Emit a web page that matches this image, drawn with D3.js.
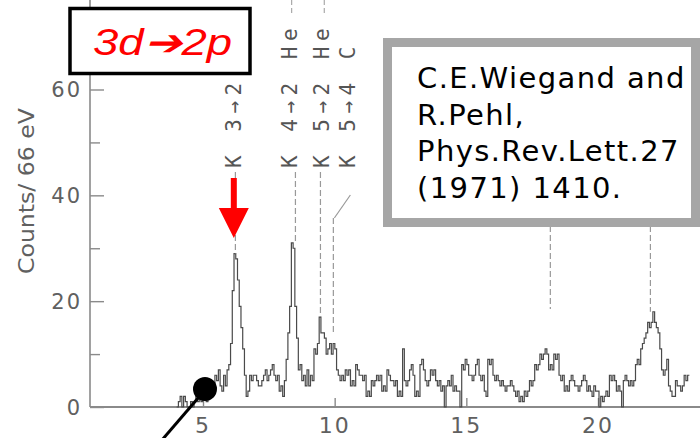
<!DOCTYPE html>
<html>
<head>
<meta charset="utf-8">
<script src="https://cdn.jsdelivr.net/npm/d3@7"></script>
<style>
  body { margin: 0; background: #fff; }
  svg { display: block; }
</style>
</head>
<body>
<div id="chart"></div>
<script>
// counts per 66 eV channel, first channel starts at 4.0 keV
const channelStart = 4.0;
const channelWidth = 0.066;
const counts = [
  0, 1, 2, 0, 2, 1, 0, 0, 1, 0,
  1, 2, 1, 2, 1, 2, 3, 1, 3, 4,
  2, 4, 6, 5, 7, 4, 3, 6, 4, 7,
  8, 12, 22, 29, 28, 24, 19, 15, 11, 6,
  2, 3, 6, 5, 6, 6, 5, 4, 4, 5,
  6, 7, 5, 6, 7, 8, 6, 5, 6, 3,
  4, 2, 5, 9, 14, 19, 31, 30, 19, 13,
  7, 8, 5, 6, 4, 7, 4, 6, 5, 11,
  10, 12, 17, 14, 14, 13, 10, 11, 12, 10,
  12, 11, 7, 6, 5, 6, 5, 7, 6, 7,
  4, 5, 4, 8, 7, 6, 6, 5, 6, 2,
  3, 2, 5, 4, 5, 6, 5, 6, 3, 4,
  3, 7, 6, 5, 5, 4, 5, 2, 3, 2,
  11, 5, 4, 5, 7, 8, 6, 2, 3, 2,
  8, 9, 7, 5, 4, 5, 7, 6, 7, 5,
  4, 5, 3, 4, 0, 4, 5, 4, 6, 3,
  4, 3, 3, 0, 8, 7, 9, 8, 6, 6,
  5, 6, 8, 9, 6, 5, 6, 3, 2, 9,
  8, 9, 6, 5, 6, 5, 4, 5, 4, 3,
  4, 4, 5, 4, 3, 2, 3, 1, 2, 1,
  3, 2, 3, 5, 4, 5, 8, 7, 8, 10,
  9, 10, 11, 10, 7, 8, 7, 10, 9, 10,
  6, 5, 6, 3, 4, 3, 5, 6, 5, 4,
  4, 3, 4, 5, 6, 5, 3, 4, 3, 2,
  4, 3, 3, 0, 2, 1, 2, 3, 2, 6,
  5, 6, 5, 3, 4, 3, 0, 5, 6, 5,
  4, 5, 4, 5, 8, 9, 8, 11, 12, 13,
  14, 16, 15, 16, 18, 16, 15, 14, 11, 7,
  6, 7, 9, 4, 3, 2, 2, 5, 4, 4,
  3, 4, 6, 5, 6
];

const yMajor = [0, 20, 40, 60];
const yMinor = [10, 30, 50];
const xTicks = [5, 10, 15, 20];

// transition lines (keV), their labels and where the dashed line stops (counts)
const lineEnergy = [6.23, 8.51, 9.46, 9.95, 18.19, 21.99];
const lineLabels = ["K 3→2", "K 4→2 He", "K 5→2 He", "K 5→4 C", "", ""];
const labelEnergy = [6.17, 8.29, 9.53, 10.52, null, null];
const lineStop = [29, 31, 17, 14, 18.5, 18];

const title = "3d➔2p";
const citation = ["C.E.Wiegand and", "R.Pehl,", "Phys.Rev.Lett.27", "(1971) 1410."];

const width = 700, height = 438;
const axisGray = "#8a8a8a", textGray = "#606060";

const svg = d3.select("#chart").append("svg")
  .attr("width", width)
  .attr("height", height);

const x = d3.scaleLinear().domain([5, 20]).range([203, 598]);
const y = d3.scaleLinear().domain([0, 60]).range([407, 89.5]);

// y axis (ticks point into the plot)
svg.append("line")
  .attr("x1", 90).attr("x2", 90)
  .attr("y1", 0).attr("y2", y(0))
  .attr("stroke", axisGray).attr("stroke-width", 1.6);

const yAxisMajor = svg.append("g")
  .attr("transform", "translate(90,0)")
  .call(d3.axisRight(y).tickValues(yMajor).tickSize(14).tickFormat(""));
const yAxisMinor = svg.append("g")
  .attr("transform", "translate(90,0)")
  .call(d3.axisRight(y).tickValues(yMinor).tickSize(10).tickFormat(""));
[yAxisMajor, yAxisMinor].forEach(g => {
  g.select(".domain").remove();
  g.selectAll(".tick line").attr("stroke", axisGray).attr("stroke-width", 1.4);
});

svg.selectAll(".ylab")
  .data(yMajor)
  .enter()
  .append("text")
  .attr("x", 82)
  .attr("y", d => y(d))
  .attr("dy", "0.36em")
  .attr("text-anchor", "end")
  .attr("font-family", "DejaVu Sans")
  .attr("font-size", 21)
  .attr("letter-spacing", 2)
  .attr("fill", textGray)
  .text(d => d);

svg.append("text")
  .attr("transform", "translate(34,191) rotate(-90)")
  .attr("text-anchor", "middle")
  .attr("font-family", "DejaVu Sans")
  .attr("font-size", 21)
  .attr("fill", textGray)
  .attr("textLength", 166)
  .attr("lengthAdjust", "spacingAndGlyphs")
  .text("Counts/ 66 eV");

// x axis
svg.append("line")
  .attr("x1", 90).attr("x2", width)
  .attr("y1", y(0)).attr("y2", y(0))
  .attr("stroke", axisGray).attr("stroke-width", 1.8);

const xAxis = svg.append("g")
  .attr("transform", "translate(0," + y(0) + ")")
  .call(d3.axisTop(x).tickValues(xTicks).tickSize(9).tickFormat(""));
xAxis.select(".domain").remove();
xAxis.selectAll(".tick line").attr("stroke", axisGray).attr("stroke-width", 1.4);

svg.selectAll(".xlab")
  .data(xTicks)
  .enter()
  .append("text")
  .attr("x", d => x(d))
  .attr("y", 433)
  .attr("text-anchor", "middle")
  .attr("font-family", "DejaVu Sans")
  .attr("font-size", 22)
  .attr("letter-spacing", 2)
  .attr("fill", textGray)
  .text(d => d);

// spectrum as a step histogram
const pts = counts.map((c, i) => [channelStart + i * channelWidth, c]);
pts.push([channelStart + counts.length * channelWidth, counts[counts.length - 1]]);

const step = d3.line()
  .x(d => x(d[0]))
  .y(d => y(d[1]))
  .curve(d3.curveStepAfter);

svg.append("path")
  .datum(pts)
  .attr("d", step)
  .attr("fill", "none")
  .attr("stroke", "#4a4a4a")
  .attr("stroke-width", 1.2);

// transition markers
lineEnergy.forEach((e, i) => {
  const lx = x(e);
  let top = 172;
  if (labelEnergy[i] !== null && Math.abs(x(labelEnergy[i]) - lx) > 8) {
    svg.append("line")
      .attr("x1", x(labelEnergy[i]) + 2).attr("y1", 195)
      .attr("x2", lx + 1).attr("y2", 218)
      .attr("stroke", "#999").attr("stroke-width", 1.2);
    top = 218;
  }
  svg.append("line")
    .attr("x1", lx).attr("x2", lx)
    .attr("y1", top).attr("y2", y(lineStop[i]))
    .attr("stroke", "#999")
    .attr("stroke-width", 1.2)
    .attr("stroke-dasharray", "6,3");
});

// short dashes above the two long labels
[1, 2].forEach(i => {
  svg.append("line")
    .attr("x1", x(labelEnergy[i]) + 2).attr("x2", x(labelEnergy[i]) + 2)
    .attr("y1", 0).attr("y2", 14)
    .attr("stroke", "#aaa").attr("stroke-width", 1.2)
    .attr("stroke-dasharray", "5,3");
});

lineLabels.forEach((t, i) => {
  if (!t) return;
  svg.append("text")
    .attr("transform", "translate(" + x(labelEnergy[i]) + ",168) rotate(-90)")
    .attr("dominant-baseline", "central")
    .attr("font-family", "DejaVu Sans Mono")
    .attr("font-size", 21)
    .attr("letter-spacing", 5.5)
    .attr("fill", "#555")
    .text(t);
});

// red arrow at the 3d->2p line
const ax = x(labelEnergy[0]);
svg.append("rect")
  .attr("x", ax - 3).attr("y", 178)
  .attr("width", 6).attr("height", 32)
  .attr("fill", "#ff0000");
svg.append("path")
  .attr("d", "M" + (ax - 15) + ",208 L" + (ax + 15) + ",208 L" + ax + ",238 Z")
  .attr("fill", "#ff0000");

// title box
svg.append("rect")
  .attr("x", 70).attr("y", 8.5)
  .attr("width", 180).attr("height", 65)
  .attr("fill", "#fff")
  .attr("stroke", "#000")
  .attr("stroke-width", 3.5);
svg.append("text")
  .attr("x", 162.5).attr("y", 55)
  .attr("text-anchor", "middle")
  .attr("font-family", "Liberation Sans, Arial, sans-serif")
  .attr("font-style", "italic")
  .attr("font-size", 36)
  .attr("fill", "#ff0000")
  .attr("textLength", 139)
  .attr("lengthAdjust", "spacingAndGlyphs")
  .text(title);

// citation box
svg.append("rect")
  .attr("x", 387.5).attr("y", 42.5)
  .attr("width", 308).attr("height", 180)
  .attr("fill", "#fff")
  .attr("stroke", "#a6a6a6")
  .attr("stroke-width", 9);
svg.selectAll(".cite")
  .data(citation)
  .enter()
  .append("text")
  .attr("x", 417)
  .attr("y", (d, i) => 88 + i * 36.7)
  .attr("font-family", "DejaVu Sans")
  .attr("font-size", 29)
  .attr("letter-spacing", 1.4)
  .attr("fill", "#000")
  .text(d => d);

// pointer dot
svg.append("line")
  .attr("x1", 205).attr("y1", 390)
  .attr("x2", 162).attr("y2", 440)
  .attr("stroke", "#000").attr("stroke-width", 3);
svg.append("circle")
  .attr("cx", 205).attr("cy", 389)
  .attr("r", 12)
  .attr("fill", "#000");
</script>
</body>
</html>
